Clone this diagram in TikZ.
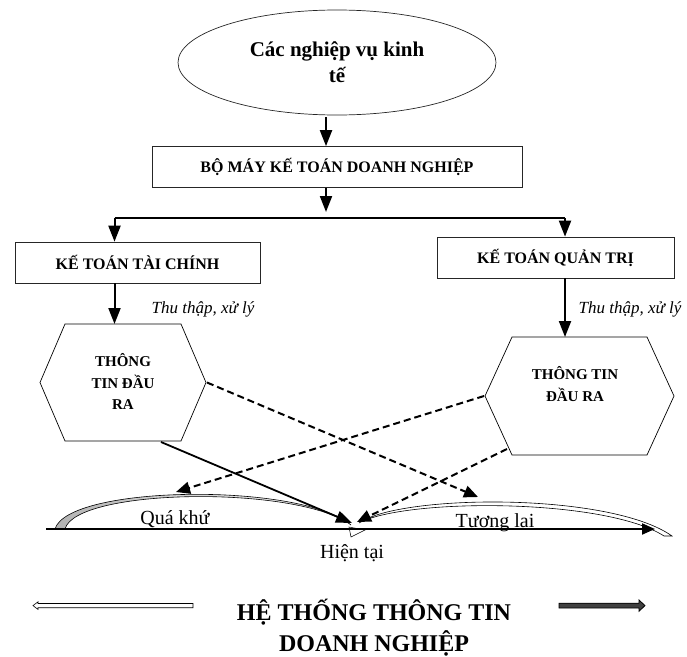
\documentclass[tikz,border=0pt]{standalone}
\usepackage{fontspec}
\setmainfont{Liberation Serif}
\usetikzlibrary{arrows.meta,shapes.geometric}

\begin{document}
\begin{tikzpicture}[x=1pt,y=-1pt,
    box/.style={draw=black!85, line width=0.7pt, minimum height=41pt, font=\fontsize{16}{19}\selectfont\bfseries},
    hexfont/.style={align=center, font=\fontsize{15}{21.5}\selectfont\bfseries},
    arr/.style={line width=2pt, -{Triangle[length=16pt,width=12pt]}},
    dsh/.style={line width=2pt, dash pattern=on 7pt off 4pt, -{Triangle[length=14pt,width=12pt]}},
    lbl/.style={anchor=base, font=\fontsize{20}{24}\selectfont},
    note/.style={font=\fontsize{17}{20}\selectfont\itshape}]
  \useasboundingbox (0,0) rectangle (687,656);

  % top of the chart
  \node[draw=black!85, line width=0.7pt, ellipse, minimum width=318pt, minimum height=105pt,
        align=center, font=\fontsize{21}{26}\selectfont\bfseries] (nv) at (337,62.5) {Các nghiệp vụ kinh\\tế};
  \node[box, minimum width=370pt] (bm) at (337,167) {BỘ MÁY KẾ TOÁN DOANH NGHIỆP};
  \node[box, minimum width=245pt] (tc) at (137.5,262.5) {KẾ TOÁN TÀI CHÍNH};
  \node[box, minimum width=237pt] (qt) at (555.5,257.5) {KẾ TOÁN QUẢN TRỊ};

  \coordinate (sp) at (326,218);
  \coordinate (jl) at (114.5,218);
  \coordinate (jr) at (565,218);
  \draw[arr] ([xshift=-11pt,yshift=-2pt]nv.south) -- ([xshift=-11pt]bm.north);
  \draw[arr, shorten >=6pt] ([xshift=-11pt]bm.south) -- (sp);
  \draw[line width=1.4pt] (jl) -- (jr);
  \draw[arr] (jl) -- (jl |- tc.north);
  \draw[arr] (jr) -- (jr |- qt.north);

  % hexagons
  \draw[line width=0.7pt] (65,324) -- (181,324) -- (206,382.5) -- (181,441) -- (65,441) -- (40,382.5) -- cycle;
  \draw[line width=0.7pt] (512,337) -- (647,337) -- (674,396) -- (647,455) -- (512,455) -- (485,396) -- cycle;
  \coordinate (hlN) at (114.5,324);
  \coordinate (hlE) at (207,382.5);
  \coordinate (hlS) at (161,442);
  \coordinate (hrN) at (565,337);
  \coordinate (hrW) at (484,396);
  \coordinate (hrSW) at (507,449);
  \node[hexfont] (hl) at (123,381.5) {THÔNG\\TIN ĐẦU\\RA};
  \node[hexfont] (hr) at (575,384) {THÔNG TIN\\ĐẦU RA};

  \draw[arr] (jl |- tc.south) -- (hlN);
  \draw[arr] (jr |- qt.south) -- (hrN);
  \node[note] (thl) at (203,309) {Thu thập, xử lý};
  \node[note] (thr) at (630,309) {Thu thập, xử lý};

  % time line
  \coordinate (t0) at (46,529);
  \coordinate (t1) at (655,529);
  \coordinate (qkA) at (176,492);
  \coordinate (tlA) at (478,497);
  \coordinate (now) at (357,522);
  \coordinate (nowL) at (352,523);
  \shadedraw[left color=gray!60, right color=white, line width=0.6pt]
    (55,529) .. controls (68,485) and (300,482) .. (351,525)
    .. controls (298,485) and (76,488) .. (65,529) -- cycle;
  \draw[fill=white, line width=0.6pt]
    (359,523) .. controls (400,494) and (610,492) .. (672,536) -- (664,536)
    .. controls (605,498) and (405,498) .. (359,523) -- cycle;
  \draw[fill=white, line width=0.5pt] (349,527) -- (365,530) -- (351,537) -- cycle;
  \draw[line width=2pt, -{Triangle[length=13pt,width=11pt]}] (t0) -- (t1);

  \draw[dsh] (hlE) -- (tlA);
  \draw[dsh] (hrW) -- (qkA);
  \draw[dsh] (hrSW) -- (now);
  \draw[arr, line width=1.8pt] (hlS) -- (nowL);

  \node[lbl] (qk) at (175,524) {Quá khứ};
  \node[lbl] (tl) at (495,527) {Tương lai};
  \node[lbl] (ht) at (352,558) {Hiện tại};

  % bottom
  \node[align=center, font=\fontsize{24}{31}\selectfont\bfseries] (httt) at (374,627.5) {HỆ THỐNG THÔNG TIN\\DOANH NGHIỆP};
  \draw[fill=white, line width=0.6pt] (193,603.5) -- (38,603.5) -- (38,601.8) -- (33,605.6)
    -- (38,609.4) -- (38,607.7) -- (193,607.7) -- cycle;
  \draw[fill=black!75, line width=0.8pt] (559,603.2) -- (639,603.2) -- (639,600) -- (645,605.6)
    -- (639,611.2) -- (639,608) -- (559,608) -- cycle;
\end{tikzpicture}
\end{document}
